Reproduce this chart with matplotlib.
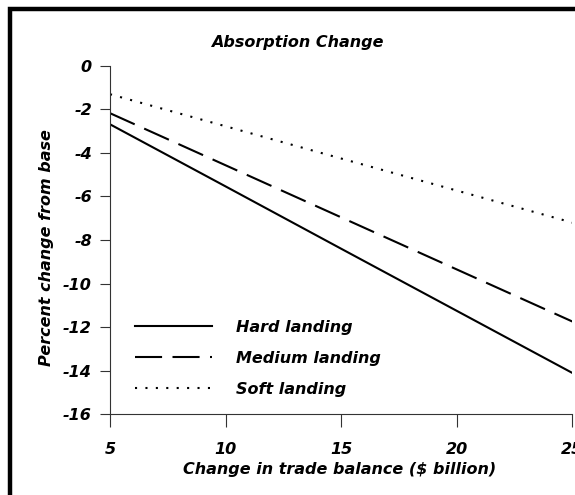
import matplotlib.pyplot as plt
from matplotlib.patches import Rectangle

plt.rcParams['font.family'] = ['DejaVu Sans']
plt.rcParams['axes.unicode_minus'] = False

trade = [5, 10, 15, 20, 25]
hard = [-2.69, -5.54, -8.40, -11.25, -14.10]
medium = [-2.18, -4.57, -6.96, -9.35, -11.74]
soft = [-1.31, -2.78, -4.26, -5.73, -7.20]
labels = ['Hard landing', 'Medium landing', 'Soft landing']
title = 'Absorption Change'

fig = plt.figure(figsize=(5.75, 4.95), dpi=100)
ax = fig.add_axes([0.1913, 0.163, 0.804, 0.7043])

ax.plot(trade, hard, color='black', lw=1.5, label=labels[0])
ax.plot(trade, medium, color='black', lw=1.5, dashes=(13, 5), label=labels[1])
ax.plot(trade, soft, color='black', lw=1.5, dashes=(1, 4), label=labels[2])

ax.set_xlim(5, 25)
ax.set_ylim(-16, 0)
ax.set_xticks([5, 10, 15, 20, 25])
ax.set_yticks(range(-16, 1, 2))

for s in ['top', 'right']:
    ax.spines[s].set_visible(False)
for s in ['left', 'bottom']:
    ax.spines[s].set_color('#333333')
    ax.spines[s].set_linewidth(0.8)

fnt = dict(fontsize=11.5, fontweight='bold', fontstyle='italic')
ax.tick_params(axis='y', direction='out', length=7, width=0.8, color='#333333', pad=6)
ax.tick_params(axis='x', direction='out', length=9, width=0.8, color='#333333', pad=11)
for t in ax.get_xticklabels() + ax.get_yticklabels():
    t.set_fontsize(11.5)
    t.set_fontweight('bold')
    t.set_fontstyle('italic')

ax.set_xlabel('Change in trade balance ($ billion)', va='center', **fnt)
ax.set_ylabel('Percent change from base', va='center', **fnt)
ax.xaxis.set_label_coords(0.497, -0.157)
ax.yaxis.set_label_coords(-0.138, 0.478)
fig.text(0.517, 0.915, title, ha='center', va='center', **fnt)

leg = ax.legend(loc='upper left', bbox_to_anchor=(0.023, 0.312), frameon=False,
                handlelength=4.8, handletextpad=1.55, labelspacing=1.0,
                borderpad=0.4, prop=dict(size=11.5, weight='bold', style='italic'))

fig.patches.append(Rectangle((10 / 575, -0.1), 1.2, 1 - 9 / 495 + 0.1,
                             transform=fig.transFigure, fill=False,
                             edgecolor='black', linewidth=3.2))

fig.savefig('out.png', dpi=100)
